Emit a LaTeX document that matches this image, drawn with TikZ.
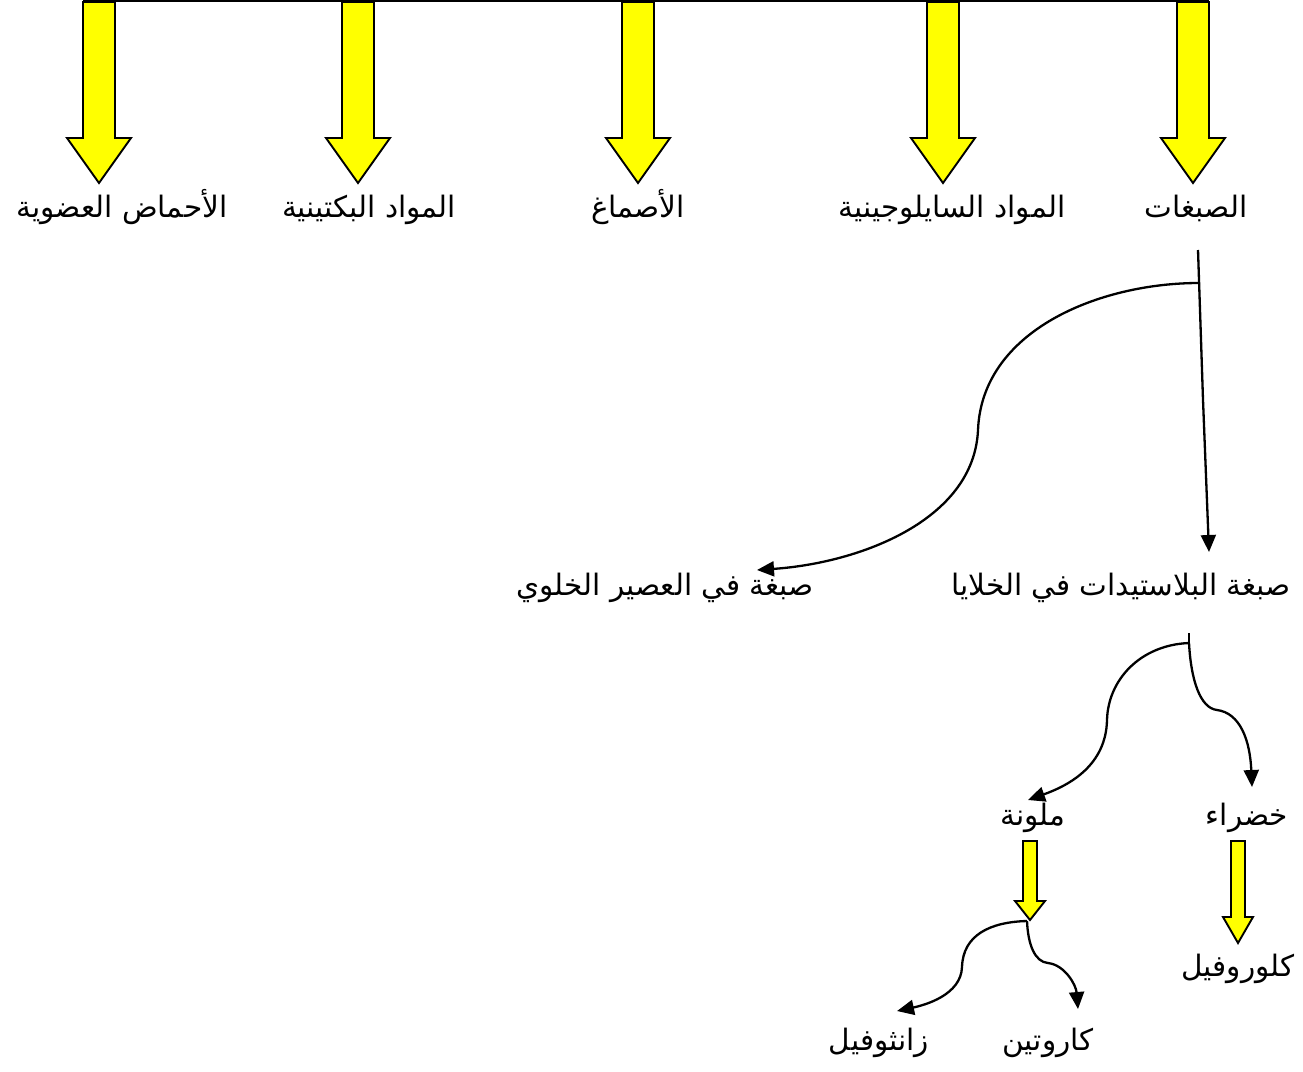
\documentclass[tikz,border=0pt]{standalone}
\usepackage{fontspec}
\usepackage{xcolor}
\usetikzlibrary{arrows.meta}
\TeXXeTstate=1
\newfontfamily\arabicfont[Script=Arabic]{DejaVu Sans}
\definecolor{gelb}{RGB}{255,255,0}
% Blockpfeil: x-Mitte, oben, Kopfansatz, Spitze, halbe Schaftbreite, halbe Kopfbreite
\newcommand{\blockpfeil}[6]{%
  \draw[gelbpfeil] (#1-#5,#2) -- (#1+#5,#2) -- (#1+#5,#3) -- (#1+#6,#3)
    -- (#1,#4) -- (#1-#6,#3) -- (#1-#5,#3) -- cycle;}

\begin{document}
\begin{tikzpicture}[x=1pt, y=-1pt,
    gelbpfeil/.style={draw=black, line width=1.9pt, fill=gelb, line join=miter},
    beschriftung/.style={font=\arabicfont\fontsize{29.5}{34}\selectfont, anchor=base, inner sep=0pt},
    pfeil/.style={line width=2.3pt, -{Triangle[length=17pt,width=15pt]}},
    linie/.style={line width=2.3pt}]
    \useasboundingbox (0,0) rectangle (1303,1071);

    % Obere Linie
    \draw[line width=1.5pt] (83,1) -- (1209,1);

    % Gelbe Pfeile oben
    \blockpfeil{99}{2}{138}{183}{16}{32}
    \blockpfeil{358}{2}{138}{183}{16}{32}
    \blockpfeil{638}{2}{138}{183}{16}{32}
    \blockpfeil{943}{2}{138}{183}{16}{32}
    \blockpfeil{1193}{2}{138}{183}{16}{32}

    % Beschriftungen oben
    \node[beschriftung] (saeuren) at (122,217) {\beginR الأحماض العضوية\endR};
    \node[beschriftung] (pektin) at (369,217) {\beginR المواد البكتينية\endR};
    \node[beschriftung] (gummi) at (638,217) {\beginR الأصماغ\endR};
    \node[beschriftung] (ligno) at (952,217) {\beginR المواد السايلوجينية\endR};
    \node[beschriftung] (pigmente) at (1196,217) {\beginR الصبغات\endR};

    % Zweite Ebene
    \node[beschriftung] (zellsaft) at (665,595) {\beginR صبغة في العصير الخلوي\endR};
    \node[beschriftung] (plastiden) at (1121,595) {\beginR صبغة البلاستيدات في الخلايا\endR};

    \coordinate (p0) at (1198,250);
    \coordinate (p1) at (1199,283);
    \coordinate (p2) at (1209,552);
    \coordinate (p3) at (757,570);
    \draw[pfeil] (p0) -- (1203,400) -- (p2);
    \draw[pfeil] (p1) .. controls (1100,283) and (982,330) .. (978,430)
        .. controls (974,520) and (860,563) .. (p3);

    % Dritte Ebene
    \node[beschriftung] (bunt) at (1033,825) {\beginR ملونة\endR};
    \node[beschriftung] (gruenpig) at (1247,825) {\beginR خضراء\endR};

    \coordinate (q0) at (1189,633);
    \coordinate (q1) at (1189,643);
    \coordinate (q2) at (1028,800);
    \coordinate (q3) at (1252,787);
    \draw[linie] (q0) -- (q1);
    \draw[pfeil] (q1) .. controls (1140,645) and (1108,680) .. (1107,720)
        .. controls (1106,765) and (1070,785) .. (q2);
    \draw[pfeil] (q1) .. controls (1191,680) and (1200,708) .. (1217,710)
        .. controls (1240,713) and (1250,740) .. (q3);

    % Kleine gelbe Pfeile
    \blockpfeil{1030}{841}{901}{920}{7}{15}
    \blockpfeil{1238}{841}{917}{943}{7}{15}

    % Vierte Ebene
    \node[beschriftung] (chlorophyll) at (1238,976) {\beginR كلوروفيل\endR};
    \node[beschriftung] (xantho) at (879,1050) {\beginR زانثوفيل\endR};
    \node[beschriftung] (karotin) at (1048,1050) {\beginR كاروتين\endR};

    \coordinate (r1) at (1027,921);
    \coordinate (r2) at (897,1011);
    \coordinate (r3) at (1078,1009);
    \draw[pfeil] (r1) .. controls (990,922) and (963,935) .. (962,967)
        .. controls (961,995) and (925,1005) .. (r2);
    \draw[pfeil] (r1) .. controls (1028,945) and (1035,962) .. (1048,963)
        .. controls (1065,965) and (1076,985) .. (r3);
\end{tikzpicture}
\end{document}
